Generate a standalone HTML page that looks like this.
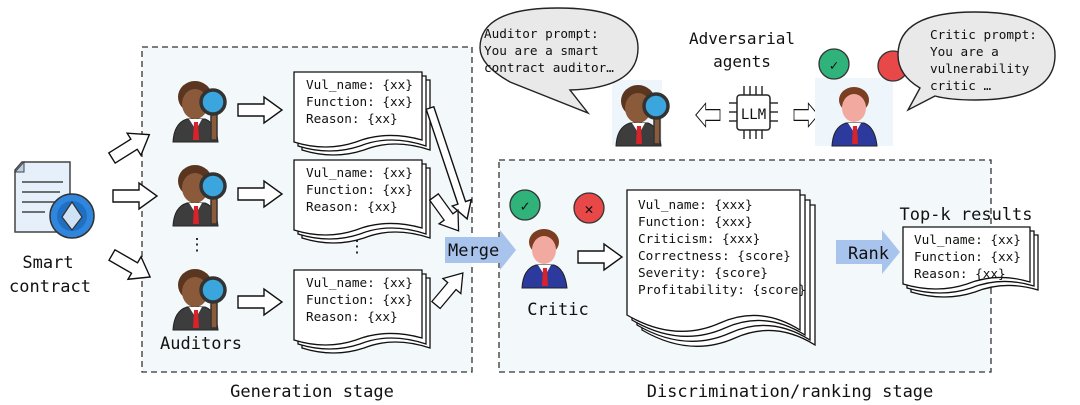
<!DOCTYPE html>
<html><head><meta charset="utf-8"><style>
html,body{margin:0;padding:0;background:#fff;}
svg{display:block;}
text{font-family:"DejaVu Sans Mono","Liberation Mono",monospace;fill:#111;}
.m{font-size:12.7px;}
.l{font-size:17px;}
</style></head><body>
<svg width="1080" height="405" viewBox="0 0 1080 405" xmlns="http://www.w3.org/2000/svg">
<defs>
<g id="aud">
  <path d="M2 64 Q3 45 16 41 L34 41 Q45 45 47 64 Z" fill="#3d3d3d" stroke="#222" stroke-width="1"/>
  <path d="M18 41 L25 52 L31 41 Z" fill="#fff"/>
  <path d="M23 44 L27 44 L28 62 L22 62 Z" fill="#d8232a"/>
  <ellipse cx="24" cy="19" rx="17" ry="16" fill="#5a3520"/>
  <ellipse cx="24" cy="26" rx="13" ry="15" fill="#8a5a3b"/>
  <rect x="40" y="34" width="6" height="28" fill="#8a5a3b" stroke="#333" stroke-width="1.5"/>
  <circle cx="42" cy="24" r="12" fill="#3aa6dd" stroke="#333" stroke-width="3.5"/>
</g>
<g id="crit">
  <path d="M2 64 Q3 45 16 41 L34 41 Q45 45 47 64 Z" fill="#2b3a9c" stroke="#222" stroke-width="1"/>
  <path d="M18 41 L25 52 L31 41 Z" fill="#fff"/>
  <path d="M23 44 L27 44 L28 62 L22 62 Z" fill="#d8232a"/>
  <ellipse cx="24" cy="18" rx="15" ry="13" fill="#7a3e22"/>
  <ellipse cx="24" cy="26" rx="12" ry="14" fill="#f2a9a0"/>
</g>
<g id="doc">
  <path d="M8 8 H136 V78 Q100 66 70 78 Q40 88 8 78 Z" fill="#fff" stroke="#111" stroke-width="1.3"/>
  <path d="M4 4 H132 V74 Q96 62 66 74 Q36 84 4 74 Z" fill="#fff" stroke="#111" stroke-width="1.3"/>
  <path d="M0 0 H128 V68 Q92 58 62 70 Q32 80 0 70 Z" fill="#fff" stroke="#111" stroke-width="1.3"/>
</g>
<path id="arr" d="M0 -6 H26 V-13 L44 0 L26 13 V6 H0 Z" fill="#fff" stroke="#111" stroke-width="1.4"/>
</defs>

<rect x="142" y="47" width="330" height="325" fill="#f3f8fa" stroke="#333" stroke-width="1.3" stroke-dasharray="6,4"/>
<rect x="499" y="160" width="492" height="212" fill="#f3f8fa" stroke="#333" stroke-width="1.3" stroke-dasharray="6,4"/>
<text x="312" y="397" class="l" text-anchor="middle">Generation stage</text>
<text x="790" y="397" class="l" text-anchor="middle">Discrimination/ranking stage</text>

<path d="M22 162 H70 V232 H15 V170 Z" fill="#e6f0fb" stroke="#444" stroke-width="1.5"/>
<path d="M15 172 L24 162 L24 172 Z" fill="#b8cfe6" stroke="#444" stroke-width="1"/>
<g stroke="#444" stroke-width="1.5"><line x1="22" y1="182" x2="63" y2="182"/><line x1="22" y1="192" x2="60" y2="192"/><line x1="22" y1="202" x2="55" y2="202"/><line x1="22" y1="212" x2="45" y2="212"/></g>
<circle cx="72" cy="216" r="22" fill="#2f86dc" stroke="#333" stroke-width="1.5"/>
<circle cx="72" cy="216" r="15" fill="#1f6fc2"/>
<path d="M72 202 L82 217 L72 230 L62 217 Z" fill="#cfe3f5" stroke="#333" stroke-width="1.2"/>
<text x="48" y="268" class="l" text-anchor="middle">Smart</text>
<text x="50" y="292" class="l" text-anchor="middle">contract</text>

<use href="#arr" transform="translate(112,158) rotate(-32)"/>
<use href="#arr" transform="translate(113,196)"/>
<use href="#arr" transform="translate(112,255) rotate(30)"/>

<use href="#aud" transform="translate(171,78)"/>
<use href="#aud" transform="translate(171,162)"/>
<use href="#aud" transform="translate(171,266)"/>
<text x="197" y="250" class="l" text-anchor="middle">⋮</text>
<text x="201" y="349" class="l" text-anchor="middle">Auditors</text>

<use href="#arr" transform="translate(238,110)"/>
<use href="#arr" transform="translate(238,194)"/>
<use href="#arr" transform="translate(238,302)"/>

<use href="#doc" transform="translate(294,72)"/>
<use href="#doc" transform="translate(294,160)"/>
<use href="#doc" transform="translate(294,270)"/>
<text x="306" y="89" class="m">Vul_name: {xx}</text>
<text x="306" y="106" class="m">Function: {xx}</text>
<text x="306" y="123" class="m">Reason: {xx}</text>
<text x="306" y="177" class="m">Vul_name: {xx}</text>
<text x="306" y="194" class="m">Function: {xx}</text>
<text x="306" y="211" class="m">Reason: {xx}</text>
<text x="306" y="287" class="m">Vul_name: {xx}</text>
<text x="306" y="304" class="m">Function: {xx}</text>
<text x="306" y="321" class="m">Reason: {xx}</text>
<text x="357" y="252" class="l" text-anchor="middle">⋮</text>

<path d="M0 -4 H100 V-10 L117 0 L100 10 V4 H0 Z" fill="#fff" stroke="#111" stroke-width="1.4" transform="translate(430,108) rotate(71.5)"/>
<use href="#arr" transform="translate(434,197) rotate(54) scale(0.95,0.9)"/>
<use href="#arr" transform="translate(436,305) rotate(-50) scale(0.95,0.9)"/>

<path d="M445 237 H500 V230 L516 250 L500 270 V263 H445 Z" fill="#a9c4ec"/>
<text x="448" y="256" class="l">Merge</text>

<circle cx="525" cy="205" r="15" fill="#2fb37a" stroke="#333" stroke-width="1.3"/>
<text x="525" y="211" text-anchor="middle" style="font-size:15px">✓</text>
<circle cx="589" cy="208" r="15" fill="#e84848" stroke="#333" stroke-width="1.3"/>
<text x="589" y="214" text-anchor="middle" style="font-size:15px">✕</text>
<use href="#crit" transform="translate(520,224)"/>
<text x="558" y="315" class="l" text-anchor="middle">Critic</text>
<use href="#arr" transform="translate(578,257)"/>

<path d="M642 205 H815 V345 Q775 320 735 338 Q690 358 642 330 Z" fill="#fff" stroke="#111" stroke-width="1.3"/>
<path d="M637 200 H810 V340 Q770 315 730 333 Q685 353 637 325 Z" fill="#fff" stroke="#111" stroke-width="1.3"/>
<path d="M632 195 H805 V335 Q765 310 725 328 Q680 348 632 320 Z" fill="#fff" stroke="#111" stroke-width="1.3"/>
<path d="M627 190 H800 V330 Q760 305 720 323 Q675 343 627 315 Z" fill="#fff" stroke="#111" stroke-width="1.3"/>
<text x="638" y="209" class="m">Vul_name: {xxx}</text>
<text x="638" y="226" class="m">Function: {xxx}</text>
<text x="638" y="243" class="m">Criticism: {xxx}</text>
<text x="638" y="260" class="m">Correctness: {score}</text>
<text x="638" y="277" class="m">Severity: {score}</text>
<text x="638" y="294" class="m">Profitability: {score}</text>

<path d="M836 240 H882 V230 L900 252 L882 274 V264 H836 Z" fill="#a9c4ec"/>
<text x="848" y="259" class="l">Rank</text>

<text x="966" y="220" class="l" text-anchor="middle">Top-k results</text>
<path d="M911 235 H1038 V290 Q1005 280 975 292 Q945 302 911 292 Z" fill="#fff" stroke="#111" stroke-width="1.3"/>
<path d="M907 231 H1034 V286 Q1001 276 971 288 Q941 298 907 288 Z" fill="#fff" stroke="#111" stroke-width="1.3"/>
<path d="M903 227 H1030 V282 Q997 272 967 284 Q937 294 903 284 Z" fill="#fff" stroke="#111" stroke-width="1.3"/>
<text x="914" y="244" class="m">Vul_name: {xx}</text>
<text x="914" y="261" class="m">Function: {xx}</text>
<text x="914" y="278" class="m">Reason: {xx}</text>

<rect x="612" y="80" width="50" height="65" fill="#eef5fb"/>
<use href="#aud" transform="translate(614,82)"/>
<path d="M510 82 Q480 65 480 48 Q480 8 558 8 Q638 8 638 48 Q638 88 570 90 L588 113 Z" fill="#e9e9e9" stroke="#222" stroke-width="1.4"/>
<text x="484" y="38" class="m">Auditor prompt:</text>
<text x="484" y="55" class="m">You are a smart</text>
<text x="484" y="72" class="m">contract auditor…</text>

<text x="742" y="44" style="font-size:16px" text-anchor="middle">Adversarial</text>
<text x="742" y="67" style="font-size:16px" text-anchor="middle">agents</text>

<g stroke="#222" stroke-width="1.4" fill="none">
<line x1="744" y1="86" x2="744" y2="95"/><line x1="750" y1="86" x2="750" y2="95"/><line x1="756" y1="86" x2="756" y2="95"/><line x1="762" y1="86" x2="762" y2="95"/>
<line x1="744" y1="130" x2="744" y2="139"/><line x1="750" y1="130" x2="750" y2="139"/><line x1="756" y1="130" x2="756" y2="139"/><line x1="762" y1="130" x2="762" y2="139"/>
<line x1="729" y1="103" x2="737" y2="103"/><line x1="729" y1="112" x2="737" y2="112"/><line x1="729" y1="121" x2="737" y2="121"/>
<line x1="770" y1="103" x2="778" y2="103"/><line x1="770" y1="112" x2="778" y2="112"/><line x1="770" y1="121" x2="778" y2="121"/>
</g>
<rect x="737" y="95" width="33" height="35" rx="3" fill="#fff" stroke="#222" stroke-width="1.5"/>
<text x="753.5" y="119" text-anchor="middle" style="font-size:14px">LLM</text>
<use href="#arr" transform="translate(720,115) rotate(180) scale(0.55,0.9)"/>
<use href="#arr" transform="translate(794,115) scale(0.55,0.9)"/>

<rect x="815" y="78" width="78" height="68" fill="#eef5fb"/>
<circle cx="834" cy="64" r="15" fill="#2fb37a" stroke="#333" stroke-width="1.3"/>
<text x="834" y="70" text-anchor="middle" style="font-size:14px">✓</text>
<circle cx="893" cy="66" r="15" fill="#e84848" stroke="#333" stroke-width="1.3"/>
<use href="#crit" transform="translate(830,82)"/>
<path d="M908 110 L920 88 Q898 75 898 55 Q898 12 975 12 Q1055 12 1055 55 Q1055 100 975 100 Q950 100 935 96 Z" fill="#e9e9e9" stroke="#222" stroke-width="1.4"/>
<text x="930" y="39" class="m">Critic prompt:</text>
<text x="930" y="56" class="m">You are a</text>
<text x="930" y="73" class="m">vulnerability</text>
<text x="930" y="90" class="m">critic …</text>
</svg>
</body></html>
